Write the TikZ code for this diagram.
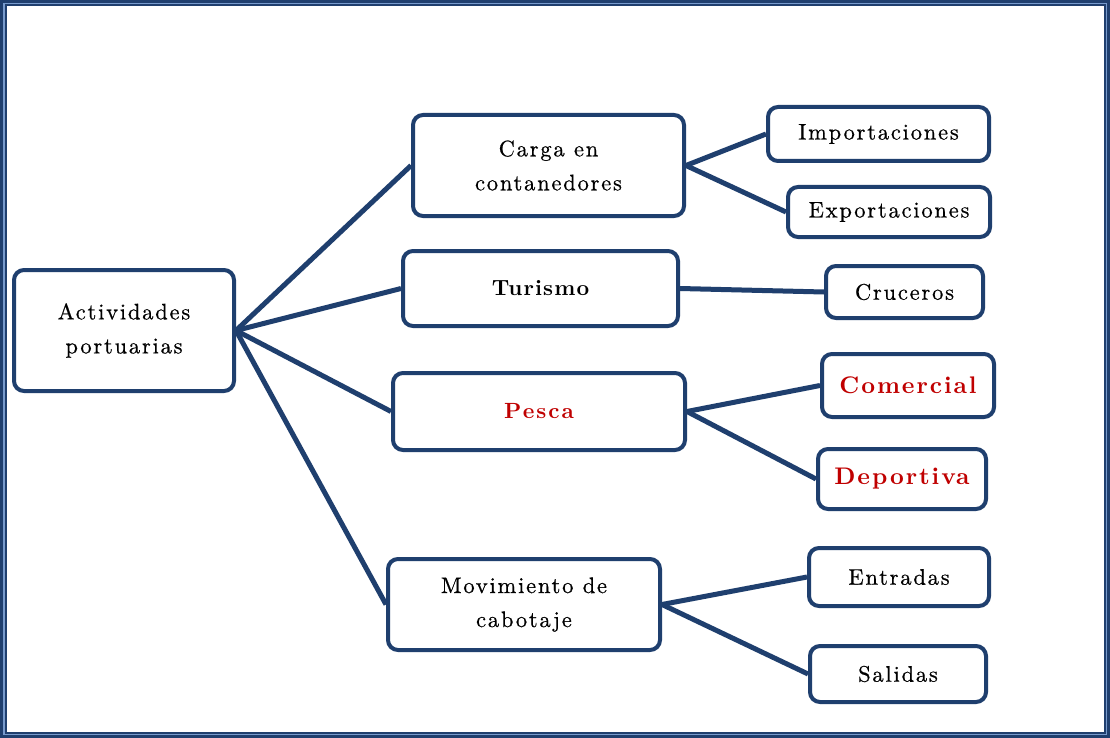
\documentclass[tikz,border=0pt]{standalone}
\usepackage{fontspec}
\setmainfont{lmroman10}[Extension=.otf, UprightFont=*-regular, BoldFont=*-bold, ItalicFont=*-italic, BoldItalicFont=*-bolditalic]
\definecolor{navy}{RGB}{31,63,110}
\definecolor{lightb}{RGB}{120,155,205}
\definecolor{redt}{RGB}{192,0,0}
\begin{document}
\begin{tikzpicture}[x=1pt,y=-1pt,
  box/.style={draw=navy, line width=4pt, rounded corners=10pt, fill=white, align=center, inner sep=0pt,
    font=\fontsize{22.5}{34}\selectfont\addfontfeatures{LetterSpace=8,FakeBold=0.6}},
  bold/.style={font=\fontsize{22}{34}\selectfont\bfseries\addfontfeatures{LetterSpace=5}},
  hot/.style={text=redt, font=\fontsize{24}{34}\selectfont\bfseries\addfontfeatures{LetterSpace=8}},
  hotsmall/.style={text=redt, font=\fontsize{22}{34}\selectfont\bfseries\addfontfeatures{LetterSpace=9}},
  link/.style={draw=navy, line width=5pt}]
\useasboundingbox (0,0) rectangle (1110,738);
\fill[navy] (0,0) rectangle (1110,738);
\fill[lightb] (3,3) rectangle (1107,735);
\fill[navy] (4.5,4.5) rectangle (1105.5,733.5);
\fill[white] (6.5,6.5) rectangle (1103.5,731.5);

\node[box, minimum width=220, minimum height=121] (act) at (124,330.5) {Actividades\\portuarias};
\node[box, minimum width=271, minimum height=101] (carga) at (548.5,165.5) {Carga en\\contanedores};
\node[box, bold, minimum width=275, minimum height=75] (tur) at (540.5,288.5) {Turismo};
\node[box, hotsmall, minimum width=292, minimum height=77] (pesca) at (539,411.5) {Pesca};
\node[box, minimum width=272, minimum height=91] (mov) at (524,604.5) {Movimiento de\\cabotaje};

\node[box, minimum width=221, minimum height=54] (imp) at (878.5,134) {Importaciones};
\node[box, minimum width=202, minimum height=50] (exp) at (889,212) {Exportaciones};
\node[box, minimum width=157, minimum height=52] (cru) at (904.5,292) {Cruceros};
\node[box, hot, minimum width=172, minimum height=63] (com) at (908,385.5) {Comercial};
\node[box, hot, minimum width=168, minimum height=60] (dep) at (902,479) {Deportiva};
\node[box, minimum width=180, minimum height=58] (ent) at (899,577) {Entradas};
\node[box, minimum width=176, minimum height=56] (sal) at (898,674) {Salidas};

\draw[link] (act.east) -- (carga.west);
\draw[link] (act.east) -- (tur.west);
\draw[link] (act.east) -- (pesca.west);
\draw[link] (act.east) -- (mov.west);
\draw[link] (carga.east) -- (imp.west);
\draw[link] (carga.east) -- (exp.west);
\draw[link] (tur.east) -- (cru.west);
\draw[link] (pesca.east) -- (com.west);
\draw[link] (pesca.east) -- (dep.west);
\draw[link] (mov.east) -- (ent.west);
\draw[link] (mov.east) -- (sal.west);
\end{tikzpicture}
\end{document}
